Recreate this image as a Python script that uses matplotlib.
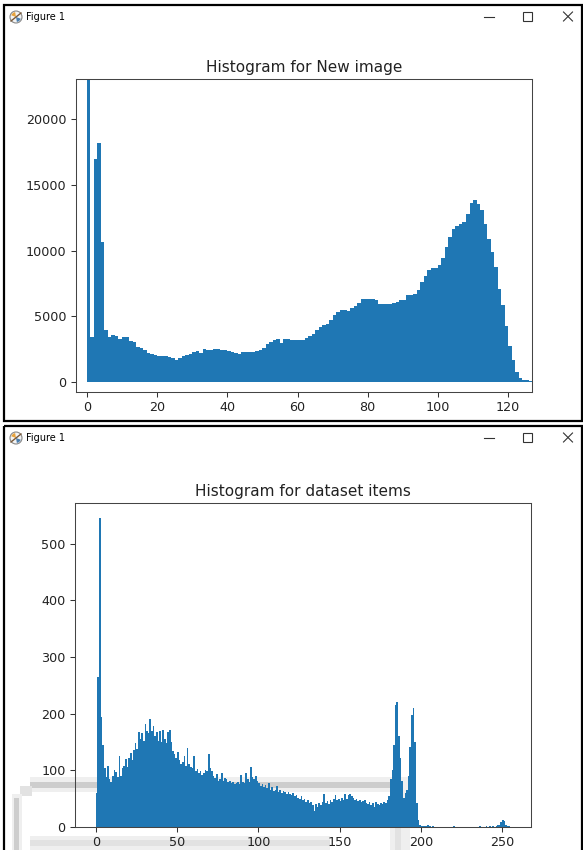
import numpy as np
import matplotlib
matplotlib.use("Agg")
import matplotlib.pyplot as plt
from matplotlib.patches import Rectangle, Circle, Wedge

# antall piksler per gråtone, bilde 1 (bins 0..126)
new_image_counts = [
    25000, 3450, 16950, 18200, 10630, 3960, 3400, 3550, 3500, 3270,
    3450, 3420, 3120, 3070, 2690, 2610, 2410, 2230, 2150, 2050,
    2000, 1990, 1950, 1940, 1830, 1650, 1850, 1950, 2030, 2130,
    2250, 2360, 2190, 2480, 2430, 2430, 2480, 2480, 2430, 2450,
    2330, 2280, 2210, 2160, 2260, 2260, 2280, 2280, 2330, 2460,
    2610, 2870, 3040, 3220, 3250, 2990, 3270, 3300, 3220, 3220,
    3170, 3220, 3370, 3530, 3680, 3930, 4190, 4340, 4440, 4740,
    5070, 5300, 5450, 5450, 5400, 5630, 5760, 6010, 6340, 6340,
    6320, 6340, 6270, 5960, 5960, 5960, 5960, 6010, 6090, 6220,
    6270, 6600, 6650, 6720, 6980, 7610, 8040, 8550, 8680, 8700,
    8930, 9460, 10270, 11040, 11670, 11870, 12050, 12180, 12810, 13620,
    13880, 13570, 13070, 12050, 10910, 9890, 8750, 7100, 5840, 4240,
    2710, 1650, 760, 330, 180, 130, 80,
]

# antall per gråtone for datasettet (bins 0..255)
dataset_counts = [
    60, 265, 545, 195, 145, 105, 88, 108, 84, 80,
    90, 100, 97, 88, 126, 90, 104, 108, 120, 106,
    122, 130, 118, 136, 148, 137, 168, 155, 166, 152,
    182, 170, 166, 190, 170, 178, 160, 168, 152, 170,
    150, 172, 155, 148, 168, 172, 150, 135, 128, 122,
    132, 118, 112, 114, 126, 108, 140, 112, 106, 104,
    125, 98, 102, 96, 98, 92, 96, 100, 98, 128,
    104, 98, 90, 86, 94, 82, 84, 96, 82, 86,
    84, 80, 82, 78, 80, 76, 78, 80, 76, 92,
    80, 78, 96, 84, 80, 106, 88, 84, 90, 82,
    78, 72, 76, 70, 74, 68, 78, 66, 70, 64,
    66, 72, 62, 66, 60, 64, 62, 58, 62, 58,
    56, 60, 55, 57, 52, 50, 54, 48, 50, 45,
    48, 42, 44, 38, 28, 40, 36, 42, 38, 44,
    58, 42, 46, 40, 48, 44, 50, 56, 48, 50,
    46, 52, 48, 58, 50, 56, 58, 54, 52, 48,
    50, 46, 48, 44, 46, 48, 42, 40, 44, 38,
    42, 36, 44, 40, 38, 42, 40, 44, 42, 48,
    55, 85, 100, 145, 215, 220, 160, 122, 82, 52,
    60, 66, 90, 142, 198, 210, 150, 42, 12, 4,
    2, 1, 2, 1, 3, 1, 0, 1, 0, 0,
    0, 0, 0, 0, 0, 0, 0, 0, 0, 0,
    2, 0, 0, 0, 0, 0, 0, 0, 0, 0,
    0, 0, 0, 0, 0, 0, 1, 0, 0, 0,
    1, 0, 1, 0, 1, 0, 2, 3, 3, 8,
    12, 11, 4, 2, 1, 0,
]

new_image_title = "Histogram for New image"
dataset_title = "Histogram for dataset items"
window_title = "Figure 1"

new_image_xticks = [0, 20, 40, 60, 80, 100, 120]
new_image_yticks = [0, 5000, 10000, 15000, 20000]
dataset_xticks = [0, 50, 100, 150, 200, 250]
dataset_yticks = [0, 100, 200, 300, 400, 500]

W, H = 583, 850
fig = plt.figure(figsize=(W / 100, H / 100), dpi=100)
fig.patch.set_facecolor("white")


def px_axes(left, top, right, bottom):
    # plasserer aksene i pikselkoordinater (origo øverst til venstre)
    return [left / W, 1 - bottom / H, (right - left) / W, (bottom - top) / H]


# bakgrunn: vinduskanter, tittellinjer og grå striper fra skjermbildet
bg = fig.add_axes([0, 0, 1, 1], zorder=-1)
bg.set_xlim(0, W)
bg.set_ylim(H, 0)
bg.axis("off")

# grå striper (ligger bak søylene i nederste plot)
light, mid, dark = "#efefef", "#e2e2e2", "#cdcdcd"
for (x, y, w, h, c) in [
    (30, 777, 365, 15, light), (30, 782, 365, 6, dark),
    (20, 786, 12, 10, mid), (12, 794, 10, 56, light), (14, 798, 5, 52, dark),
    (30, 836, 300, 14, light), (30, 840, 300, 6, mid),
    (390, 777, 20, 73, light), (395, 790, 6, 60, mid),
]:
    bg.add_patch(Rectangle((x, y), w, h, facecolor=c, edgecolor="none"))

# vinduskanter
bg.add_patch(Rectangle((3.5, 4.5), 578, 416, fill=False, edgecolor="black", lw=1.6))
bg.add_patch(Rectangle((3.5, 425.5), 578, 430, fill=False, edgecolor="black", lw=1.6))


def title_bar(y):
    # ikon
    bg.add_patch(Circle((16, y), 6, facecolor="#f4f4f4", edgecolor="#888888", lw=0.8))
    bg.add_patch(Wedge((16, y), 5, 200, 260, facecolor="#e8a33c", edgecolor="none"))
    bg.add_patch(Wedge((16, y), 5, 20, 80, facecolor="#4a7fb0", edgecolor="none"))
    bg.plot([11, 21], [y + 4, y - 4], color="#7a5a3a", lw=1.0)
    bg.text(26, y, window_title, fontsize=7, va="center", ha="left", color="black")
    # minimer, maksimer, lukk
    bg.plot([484, 494], [y, y], color="#333333", lw=0.8)
    bg.add_patch(Rectangle((522.5, y - 5), 9, 9, fill=False, edgecolor="#333333", lw=0.8))
    bg.plot([563.5, 572.5], [y - 5, y + 4], color="#333333", lw=0.8)
    bg.plot([563.5, 572.5], [y + 4, y - 5], color="#333333", lw=0.8)


title_bar(17)
title_bar(438)

blue = "#1f77b4"

# ---- øverste histogram ----
ax1 = fig.add_axes(px_axes(76, 79, 532, 392))
x1 = np.arange(len(new_image_counts))
ax1.hist(x1, bins=np.arange(len(new_image_counts) + 1), weights=new_image_counts, color=blue)
ax1.set_xlim(-3.1, 126.8)
ax1.set_ylim(-760, 23060)
ax1.set_xticks(new_image_xticks)
ax1.set_yticks(new_image_yticks)
ax1.set_title(new_image_title, fontsize=11, pad=5, color="#222222")

# ---- nederste histogram ----
ax2 = fig.add_axes(px_axes(75, 503, 531, 827))
ax2.patch.set_alpha(0)
x2 = np.arange(len(dataset_counts))
ax2.hist(x2, bins=np.arange(len(dataset_counts) + 1), weights=dataset_counts, color=blue)
ax2.set_xlim(-12.8, 267.8)
ax2.set_ylim(0, 572)
ax2.set_xticks(dataset_xticks)
ax2.set_yticks(dataset_yticks)
ax2.set_title(dataset_title, fontsize=11, pad=5, color="#222222")

for ax in (ax1, ax2):
    ax.tick_params(labelsize=9.2, length=3.3, width=0.75, labelcolor="#222222", color="#333333")
    for s in ax.spines.values():
        s.set_linewidth(0.75)
        s.set_color("#444444")

fig.savefig("out.png", dpi=100)
